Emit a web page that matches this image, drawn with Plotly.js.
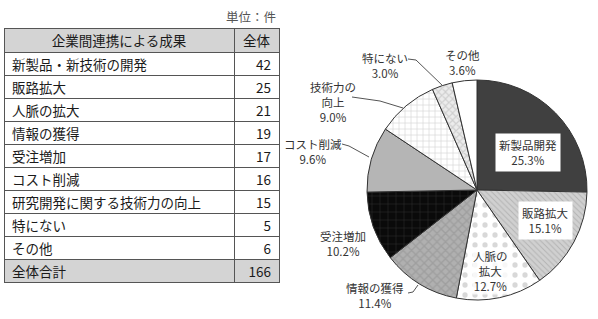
<!DOCTYPE html>
<html>
<head>
<meta charset="utf-8">
<script src="https://cdn.plot.ly/plotly-3.0.1.min.js"></script>
<style>html,body{margin:0;padding:0;background:#fff;}#chart{width:598px;height:319px;}</style>
</head>
<body>
<div id="chart"></div>
<script>
// ---- data ----
const tableCategories = ["新製品・新技術の開発","販路拡大","人脈の拡大","情報の獲得","受注増加","コスト削減","研究開発に関する技術力の向上","特にない","その他"];
const tableValues = [42,25,21,19,17,16,15,5,6];
const totalLabel = "全体合計";
const headerLabels = ["企業間連携による成果","全体"];
const unitLabel = "単位：件";
const pieLabels = ["新製品開発","販路拡大","人脈の<br>拡大","情報の獲得","受注増加","コスト削減","技術力の<br>向上","特にない","その他"];
const pieValues = [42,25,21,19,17,16,15,5,6];

// ---- styles ----
const W = 598, H = 319;
const FONT = "Noto Sans CJK JP, Noto Sans, sans-serif";
const pieBox = {x0:367, x1:587, y0:80, y1:300}; // px
const cx = (pieBox.x0+pieBox.x1)/2, cy = (pieBox.y0+pieBox.y1)/2;
const labelOffsets = [[51,-38],[68,31],[13,81],[-102,105],[-134,53],[-164,-39],[-144,-88],[-92,-124],[-15,-128]];
const labelBg = ["#ffffff","#ffffff","rgba(255,255,255,0.8)",null,null,null,null,null,null];
const leaderPaths = [
  [[408,59],[416,60],[443,86]],
  [[352,97],[380,101],[403,108]],
  [[342,144],[349,146],[369,157]],
  [[408,293],[413,292],[418,285]]
];
const patShape = ["", "\\", ".", "x", "+", "", "+", "x", ""];
const patFg = ["#404040","#909090","#a8a8a8","#8a8a8a","#4a4a4a","#b5b5b5","#a0a0a0","#a8a8a8","#ffffff"];
const patBg = ["#404040","#d0d0d0","#ffffff","#b0b0b0","#0a0a0a","#b5b5b5","#ffffff","#ececec","#ffffff"];
const patSize = [8,4,10,6,8,8,6,5,8];
const patSolid = [0.3,0.25,0.22,0.4,0.14,0.3,0.2,0.4,0.3];
const sliceColors = ["#404040","#d0d0d0","#ffffff","#b0b0b0","#0a0a0a","#b5b5b5","#ffffff","#ececec","#ffffff"];

const px2x = p => p / W;
const px2y = p => 1 - p / H;

const total = tableValues.reduce((a,b)=>a+b,0);
const col1 = tableCategories.concat([totalLabel]);
const col2 = tableValues.map(String).concat([String(total)]);
const rowFill = col1.map((_,i)=> i===col1.length-1 ? "#d4d4d4" : "#ffffff");

const table = {
  type: "table",
  domain: {x:[px2x(4), px2x(279)], y:[px2y(290), px2y(28)]},
  columnwidth: [230,45],
  header: {
    values: headerLabels,
    align: ["center","center"],
    height: 24,
    fill: {color: "#d4d4d4"},
    line: {color: "#555555", width: 1},
    font: {family: FONT, size: 13.5, color: "#1a1a1a"}
  },
  cells: {
    values: [col1, col2],
    align: ["left","right"],
    height: 23,
    fill: {color: [rowFill, rowFill]},
    line: {color: "#555555", width: 1},
    font: {family: FONT, size: 13.5, color: "#1a1a1a"}
  }
};

const pie = {
  type: "pie",
  labels: pieLabels,
  values: pieValues,
  sort: false,
  direction: "clockwise",
  rotation: 0,
  textinfo: "none",
  hoverinfo: "skip",
  domain: {x:[px2x(pieBox.x0), px2x(pieBox.x1)], y:[px2y(pieBox.y1), px2y(pieBox.y0)]},
  marker: {
    colors: sliceColors,
    line: {color: "#333333", width: 1},
    pattern: {shape: patShape, fgcolor: patFg, bgcolor: patBg, size: patSize, solidity: patSolid, fillmode: "replace", fgopacity: 0.45}
  }
};

const pieTotal = pieValues.reduce((a,b)=>a+b,0);
const annotations = pieLabels.map((lab,i)=>({
  xref:"paper", yref:"paper",
  x: px2x(cx + labelOffsets[i][0]), y: px2y(cy + labelOffsets[i][1]),
  xanchor:"center", yanchor:"middle",
  text: lab + "<br>" + (pieValues[i]/pieTotal*100).toFixed(1) + "%",
  showarrow:false,
  font:{family: FONT, size: 11.5, color:"#333"},
  bgcolor: labelBg[i] || "rgba(0,0,0,0)",
  borderpad: labelBg[i] ? (i < 2 ? 3 : 0) : 0
}));
annotations.push({
  xref:"paper", yref:"paper", x: px2x(278), y: px2y(17),
  xanchor:"right", yanchor:"middle", showarrow:false,
  text: unitLabel, font:{family: FONT, size: 12.5, color:"#555"}
});

const shapes = leaderPaths.map(pts=>({
  type:"path", xref:"paper", yref:"paper",
  path: pts.map((p,j)=>(j?"L":"M")+px2x(p[0])+","+px2y(p[1])).join(" "),
  line:{color:"#555", width:1}
}));

Plotly.newPlot("chart", [table, pie], {
  width: W, height: H,
  margin: {l:0, r:0, t:0, b:0},
  paper_bgcolor: "#ffffff",
  showlegend: false,
  annotations: annotations,
  shapes: shapes
}, {staticPlot: true});
</script>
</body>
</html>
